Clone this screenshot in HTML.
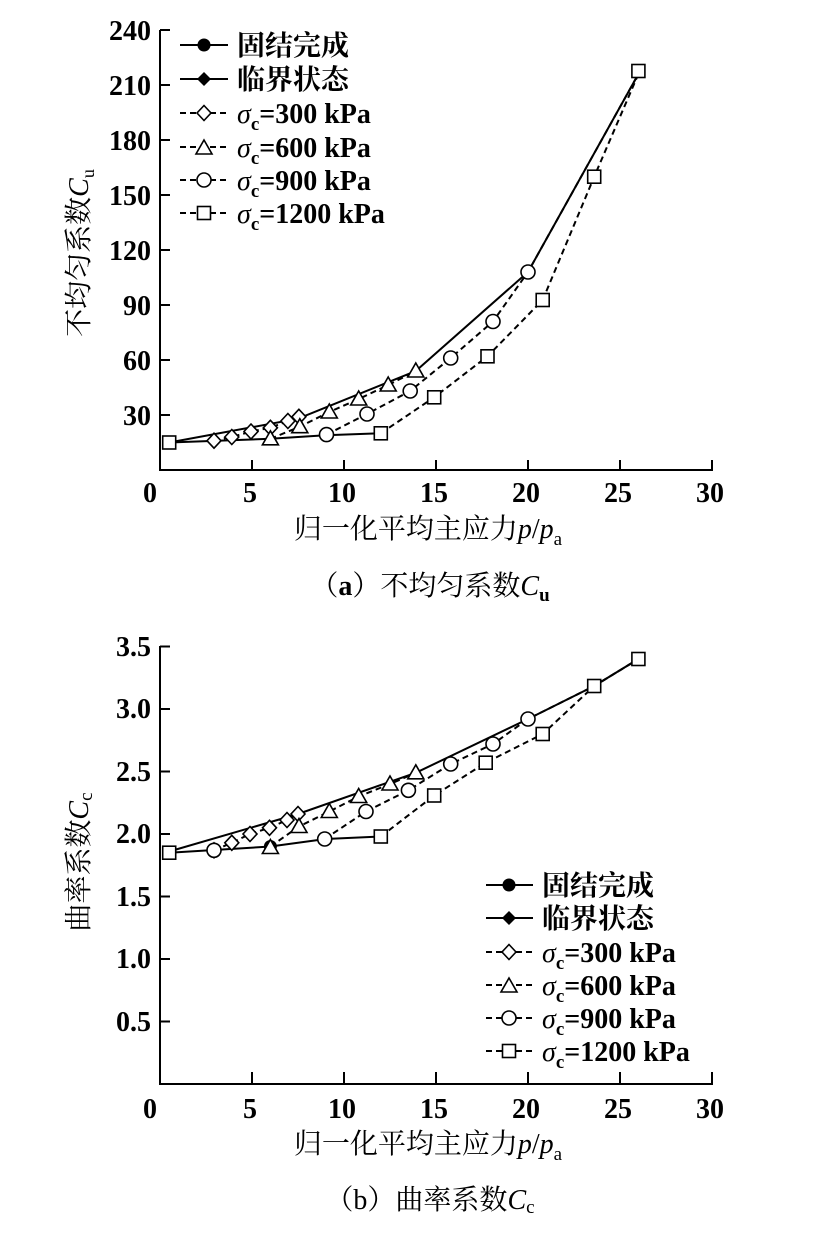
<!DOCTYPE html>
<html><head><meta charset="utf-8"><style>
html,body{margin:0;padding:0;background:#fff;}
svg{display:block;}
text{font-family:"Liberation Serif","Noto Serif CJK SC",serif;fill:#000;}
.t{font-size:28px;font-weight:bold;}
.l{font-size:28px;font-weight:bold;}
.c{font-size:28px;}
</style></head><body>
<svg width="818" height="1237" viewBox="0 0 818 1237" xmlns="http://www.w3.org/2000/svg">
<defs>
<rect id="sq" x="-6.5" y="-6.5" width="13" height="13" fill="#fff" stroke="#000" stroke-width="1.6"/>
<circle id="ci" r="7" fill="#fff" stroke="#000" stroke-width="1.6"/>
<polygon id="tr" points="0,-8 8,6 -8,6" fill="#fff" stroke="#000" stroke-width="1.6"/>
<polygon id="di" points="0,-7.5 7,0 0,7.5 -7,0" fill="#fff" stroke="#000" stroke-width="1.6"/>
<circle id="fc" r="6.5" fill="#000"/>
<polygon id="fd" points="0,-7 7,0 0,7 -7,0" fill="#000"/>
</defs>

<!-- ========== TOP CHART ========== -->
<g stroke="#000" stroke-width="2" fill="none">
<path d="M160,30 V470 H713"/>
<path d="M160,30h10M160,85h10M160,140h10M160,195h10M160,250h10M160,305h10M160,360h10M160,415h10"/>
<path d="M252,470v-10M344,470v-10M436,470v-10M528,470v-10M620,470v-10M712,470v-10"/>
</g>
<g class="t" text-anchor="end">
<text x="151" y="40">240</text><text x="151" y="95">210</text><text x="151" y="150">180</text><text x="151" y="205">150</text><text x="151" y="260">120</text><text x="151" y="315">90</text><text x="151" y="370">60</text><text x="151" y="425">30</text>
</g>
<g class="t" text-anchor="middle">
<text x="150" y="502">0</text><text x="250" y="502">5</text><text x="342" y="502">10</text><text x="434" y="502">15</text><text x="526" y="502">20</text><text x="618" y="502">25</text><text x="710" y="502">30</text>
</g>
<text class="c" transform="translate(88,253) rotate(-90)" text-anchor="middle">不均匀系数<tspan font-style="italic">C</tspan><tspan font-size="18" dy="6">u</tspan></text>
<text class="c" x="428" y="538" text-anchor="middle">归一化平均主应力<tspan font-style="italic">p</tspan>/<tspan font-style="italic">p</tspan><tspan font-size="19" dy="7">a</tspan></text>
<text class="c" x="430" y="595" text-anchor="middle">（<tspan font-weight="bold">a</tspan>）不均匀系数<tspan font-style="italic">C</tspan><tspan font-size="19" dy="6" font-weight="bold">u</tspan></text>

<g fill="none" stroke="#000" stroke-width="2">
<polyline points="169.2,442.5 298,418.7 415.8,371 528,272 638.4,74"/>
<polyline points="169.2,442.5 270.4,438.8 325.6,435.2 380.8,433.3"/>
</g>
<g fill="none" stroke="#000" stroke-width="2" stroke-dasharray="6,4">
<polyline points="214,440.7 231.8,437 251,431.5 270.4,427.8 287.9,421 298.9,416.8"/>
<polyline points="270.4,438.8 299.8,426.7 329.3,412 358.7,399 388.2,385 415.8,371"/>
<polyline points="326.5,434.6 367,414 410.2,391 450.7,358 493,321.5 528,272 638.4,74"/>
<polyline points="380.8,433.3 434.2,397.3 487.5,356.3 542.7,300 594.2,176.7 638.4,74"/>
</g>
<g>
<use href="#di" x="214" y="440.7"/><use href="#di" x="231.8" y="437"/><use href="#di" x="251" y="431.5"/><use href="#di" x="270.4" y="427.8"/><use href="#di" x="287.9" y="421"/><use href="#di" x="298.9" y="416.8"/>
<use href="#tr" x="270.4" y="438.8"/><use href="#tr" x="299.8" y="426.7"/><use href="#tr" x="329.3" y="412"/><use href="#tr" x="358.7" y="399"/><use href="#tr" x="388.2" y="385"/><use href="#tr" x="415.8" y="371"/>
<use href="#ci" x="326.5" y="434.6"/><use href="#ci" x="367" y="414"/><use href="#ci" x="410.2" y="391"/><use href="#ci" x="450.7" y="358"/><use href="#ci" x="493" y="321.5"/><use href="#ci" x="528" y="272"/>
<use href="#sq" x="169.2" y="442.5"/><use href="#sq" x="380.8" y="433.3"/><use href="#sq" x="434.2" y="397.3"/><use href="#sq" x="487.5" y="356.3"/><use href="#sq" x="542.7" y="300"/><use href="#sq" x="594.2" y="176.7"/><use href="#sq" x="638.4" y="71"/>
</g>

<!-- top legend -->
<g stroke="#000" stroke-width="2">
<line x1="180" y1="45" x2="228" y2="45"/><line x1="180" y1="79" x2="228" y2="79"/>
<g stroke-dasharray="6,4"><line x1="180" y1="113" x2="228" y2="113"/><line x1="180" y1="147" x2="228" y2="147"/><line x1="180" y1="180" x2="228" y2="180"/><line x1="180" y1="213" x2="228" y2="213"/></g>
</g>
<use href="#fc" x="204" y="45"/><use href="#fd" x="204" y="79"/>
<use href="#di" x="204" y="113"/><use href="#tr" x="204" y="148"/><use href="#ci" x="204" y="180"/><use href="#sq" x="204" y="213"/>
<g class="l">
<text x="237" y="55">固结完成</text><text x="237" y="89">临界状态</text>
<text x="237" y="123"><tspan font-style="italic" font-weight="normal">σ</tspan><tspan font-size="19" dy="7">c</tspan><tspan dy="-7">=300 kPa</tspan></text>
<text x="237" y="157"><tspan font-style="italic" font-weight="normal">σ</tspan><tspan font-size="19" dy="7">c</tspan><tspan dy="-7">=600 kPa</tspan></text>
<text x="237" y="190"><tspan font-style="italic" font-weight="normal">σ</tspan><tspan font-size="19" dy="7">c</tspan><tspan dy="-7">=900 kPa</tspan></text>
<text x="237" y="223"><tspan font-style="italic" font-weight="normal">σ</tspan><tspan font-size="19" dy="7">c</tspan><tspan dy="-7">=1200 kPa</tspan></text>
</g>

<!-- ========== BOTTOM CHART ========== -->
<g stroke="#000" stroke-width="2" fill="none">
<path d="M160,646 V1084 H713"/>
<path d="M160,646.5h10M160,709h10M160,771.5h10M160,834h10M160,896.5h10M160,959h10M160,1021.5h10"/>
<path d="M252,1084v-12M344,1084v-12M436,1084v-12M528,1084v-12M620,1084v-12M712,1084v-12"/>
</g>
<g class="t" text-anchor="end">
<text x="151" y="656">3.5</text><text x="151" y="718">3.0</text><text x="151" y="781">2.5</text><text x="151" y="843">2.0</text><text x="151" y="906">1.5</text><text x="151" y="968">1.0</text><text x="151" y="1031">0.5</text>
</g>
<g class="t" text-anchor="middle">
<text x="150" y="1118">0</text><text x="250" y="1118">5</text><text x="342" y="1118">10</text><text x="434" y="1118">15</text><text x="526" y="1118">20</text><text x="618" y="1118">25</text><text x="710" y="1118">30</text>
</g>
<text class="c" transform="translate(88,862) rotate(-90)" text-anchor="middle">曲率系数<tspan font-style="italic">C</tspan><tspan font-size="19" dy="4">c</tspan></text>
<text class="c" x="428" y="1153" text-anchor="middle">归一化平均主应力<tspan font-style="italic">p</tspan>/<tspan font-style="italic">p</tspan><tspan font-size="19" dy="7">a</tspan></text>
<text class="c" x="430" y="1209" text-anchor="middle">（b）曲率系数<tspan font-style="italic">C</tspan><tspan font-size="19" dy="4">c</tspan></text>

<g fill="none" stroke="#000" stroke-width="2">
<polyline points="169.2,851.5 298,814 415.8,772.8 528,719 594.2,686 638.4,659"/>
<polyline points="169.2,852.7 270.4,846.5 325.6,839 380.8,836.5"/>
</g>
<g fill="none" stroke="#000" stroke-width="2" stroke-dasharray="6,4">
<polyline points="214,850.3 231.8,842.8 250,834 269.5,827.8 287,820 298,814"/>
<polyline points="270.4,846.5 299,826.5 329.3,811.5 358.7,796.5 390,784 415.8,772.8"/>
<polyline points="324.7,839 366,811.5 408.4,790.3 450.7,764 493,744 528,719 594.2,686 638.4,659"/>
<polyline points="380.8,836.5 434.2,795.5 485.7,762.7 542.7,734 594.2,686 638.4,659"/>
</g>
<g>
<use href="#fc" x="270.4" y="846.5"/>
<use href="#di" x="214" y="850.3"/><use href="#di" x="231.8" y="842.8"/><use href="#di" x="250" y="834"/><use href="#di" x="269.5" y="827.8"/><use href="#di" x="287" y="820"/><use href="#di" x="298" y="814"/>
<use href="#tr" x="270.4" y="847.5"/><use href="#tr" x="299" y="826.5"/><use href="#tr" x="329.3" y="811.5"/><use href="#tr" x="358.7" y="796.5"/><use href="#tr" x="390" y="784"/><use href="#tr" x="415.8" y="772.8"/>
<use href="#ci" x="214" y="850.3"/><use href="#ci" x="324.7" y="839"/><use href="#ci" x="366" y="811.5"/><use href="#ci" x="408.4" y="790.3"/><use href="#ci" x="450.7" y="764"/><use href="#ci" x="493" y="744"/><use href="#ci" x="528" y="719"/>
<use href="#sq" x="169.2" y="852.7"/><use href="#sq" x="380.8" y="836.5"/><use href="#sq" x="434.2" y="795.5"/><use href="#sq" x="485.7" y="762.7"/><use href="#sq" x="542.7" y="734"/><use href="#sq" x="594.2" y="686"/><use href="#sq" x="638.4" y="659"/>
</g>

<!-- bottom legend -->
<g stroke="#000" stroke-width="2">
<line x1="486" y1="885" x2="533" y2="885"/><line x1="486" y1="918" x2="533" y2="918"/>
<g stroke-dasharray="6,4"><line x1="486" y1="952" x2="533" y2="952"/><line x1="486" y1="985" x2="533" y2="985"/><line x1="486" y1="1018" x2="533" y2="1018"/><line x1="486" y1="1051" x2="533" y2="1051"/></g>
</g>
<use href="#fc" x="509" y="885"/><use href="#fd" x="509" y="918"/>
<use href="#di" x="509" y="952"/><use href="#tr" x="509" y="986"/><use href="#ci" x="509" y="1018"/><use href="#sq" x="509" y="1051"/>
<g class="l">
<text x="542" y="895">固结完成</text><text x="542" y="928">临界状态</text>
<text x="542" y="962"><tspan font-style="italic" font-weight="normal">σ</tspan><tspan font-size="19" dy="7">c</tspan><tspan dy="-7">=300 kPa</tspan></text>
<text x="542" y="995"><tspan font-style="italic" font-weight="normal">σ</tspan><tspan font-size="19" dy="7">c</tspan><tspan dy="-7">=600 kPa</tspan></text>
<text x="542" y="1028"><tspan font-style="italic" font-weight="normal">σ</tspan><tspan font-size="19" dy="7">c</tspan><tspan dy="-7">=900 kPa</tspan></text>
<text x="542" y="1061"><tspan font-style="italic" font-weight="normal">σ</tspan><tspan font-size="19" dy="7">c</tspan><tspan dy="-7">=1200 kPa</tspan></text>
</g>
</svg>
</body></html>
